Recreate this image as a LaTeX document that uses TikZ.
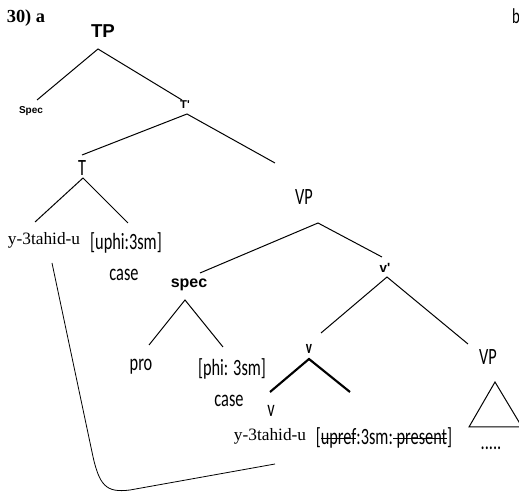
\documentclass[tikz,border=0pt]{standalone}
\usepackage{fontspec}
\setmainfont{Liberation Serif}
\newfontfamily\narrowsf{Carlito}[FakeStretch=0.7]
\newfontfamily\arialsf{Liberation Sans}
\newsavebox\strkbox
\newcommand\strk[1]{\sbox\strkbox{#1}\rlap{\rule[0.25em]{\wd\strkbox}{0.8pt}}\usebox\strkbox}
\tikzset{
  lbl/.style={inner sep=0pt},
  rm/.style={lbl, font=\fontsize{13}{15}\selectfont},
  cond/.style={lbl, font=\narrowsf\fontsize{#1}{#1}\selectfont},
  cond/.default=17.5,
  condbold/.style={lbl, font=\narrowsf\bfseries\fontsize{#1}{#1}\selectfont},
  heavy/.style={lbl, font=\arialsf\bfseries\fontsize{#1}{#1}\selectfont},
  branch/.style={line width=0.75pt},
  thickbranch/.style={line width=1.6pt}
}
\begin{document}
\begin{tikzpicture}[x=0.75pt, y=-0.75pt]
\useasboundingbox (0,0) rectangle (519,495);
\node (ex) at (26,18) [lbl, font=\bfseries\fontsize{13.8}{15}\selectfont] {30) a};
\node (exb) at (516,16) [cond=16] {b};
\node (TP) at (103,31) [heavy=14] {TP};
\node (specA) at (31,111) [heavy=7.5] {Spec};
\node (Tbar) at (185,105) [heavy=8.5] {T'};
\node (T) at (82,168) [cond] {T};
\node (verbA) at (44,240) [rm] {y-3tahid-u};
\node (uphi) at (126,243) [cond] {[uphi:3sm]};
\node (caseA) at (124,275) [cond] {case};
\node (VPa) at (304,197) [cond] {VP};
\node (specB) at (189,285) [heavy=12] {spec};
\node (vbar) at (385,268) [heavy=10] {v'};
\node (pro) at (141,367) [cond] {pro};
\node (phi) at (232,369) [cond] {[phi: 3sm]};
\node (caseB) at (229,401) [cond] {case};
\node (vhead) at (309,349) [condbold=14] {v};
\node (VPb) at (488,357) [cond] {VP};
\node (vlow) at (271,411) [cond] {v};
\node (verbB) at (270,436) [rm] {y-3tahid-u};
\node (upref) at (384,438) [cond] {[\strk{upref}:3sm:\strk{ present}]};
\node (dots) at (491,448) [cond] {.....};
\coordinate (TP-fork) at (98,49);
\coordinate (TP-l) at (37,100);
\coordinate (TP-r) at (182,100);
\coordinate (Tbar-fork) at (187,114);
\coordinate (Tbar-l) at (82,155);
\coordinate (Tbar-r) at (275,163);
\coordinate (T-fork) at (83,178);
\coordinate (T-l) at (35,222);
\coordinate (T-r) at (128,223);
\coordinate (VPa-fork) at (318,223);
\coordinate (VPa-l) at (200,273);
\coordinate (VPa-r) at (382,257);
\coordinate (specB-fork) at (185,300);
\coordinate (specB-l) at (149,345);
\coordinate (specB-r) at (223,347);
\coordinate (vbar-fork) at (387,277);
\coordinate (vbar-l) at (321,333);
\coordinate (vbar-r) at (468,344);
\coordinate (vhead-fork) at (309,359);
\coordinate (vhead-l) at (270,392);
\coordinate (vhead-r) at (350,392);
\coordinate (tri-top) at (495,382);
\coordinate (tri-l) at (469,427);
\coordinate (tri-r) at (522,427);
\coordinate (move-a) at (52,263);
\coordinate (move-b) at (275,464);
\draw [branch] (TP-l) -- (TP-fork) -- (TP-r);
\draw [branch] (Tbar-l) -- (Tbar-fork) -- (Tbar-r);
\draw [branch] (T-l) -- (T-fork) -- (T-r);
\draw [branch] (VPa-l) -- (VPa-fork) -- (VPa-r);
\draw [branch] (specB-l) -- (specB-fork) -- (specB-r);
\draw [branch] (vbar-l) -- (vbar-fork) -- (vbar-r);
\draw [thickbranch] (vhead-l) -- (vhead-fork) -- (vhead-r);
\draw [branch] (tri-top) -- (tri-l) -- (tri-r) -- cycle;
\draw [line width=0.6pt] (move-a) -- (92,452) .. controls (99,486) and (106,493) .. (130,490) -- (move-b);
\end{tikzpicture}
\end{document}
